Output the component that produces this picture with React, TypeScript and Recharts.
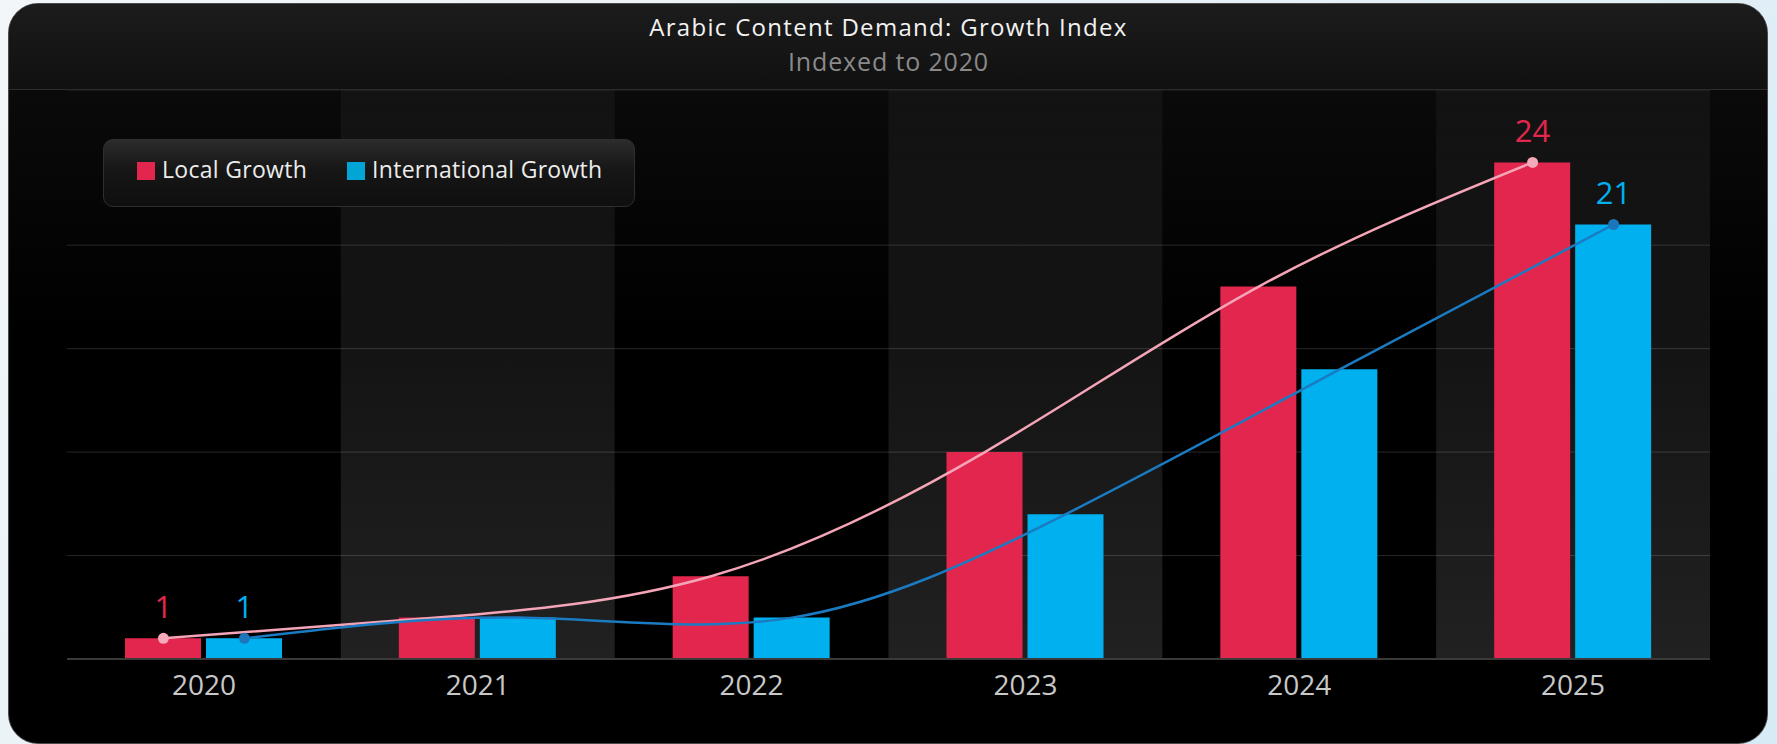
import React from 'react';
import { ComposedChart, Bar, Line, XAxis, YAxis, CartesianGrid, ReferenceArea } from 'recharts';

const years = ['2020', '2021', '2022', '2023', '2024', '2025'];
const localGrowth = [1, 2, 4, 10, 18, 24];
const internationalGrowth = [1, 2, 2, 7, 14, 21];
const yTicks = [0, 5, 10, 15, 20];
const shadedYears = ['2021', '2023', '2025'];

const RED = '#e3264e';
const BLUE = '#00b0ef';
const PINK_LINE = '#f4a5b7';
const BLUE_LINE = '#1b7bc2';
const FONT = '"Open Sans", "Noto Sans", sans-serif';

const data = years.map((year, i) => ({ year, local: localGrowth[i], intl: internationalGrowth[i] }));
const LAST = years.length - 1;

const makeDot = (key: 'local' | 'intl', dotColor: string, labelColor: string) => (props: any) => {
  const { cx, cy, index, payload } = props;
  if (index !== 0 && index !== LAST) return <g key={`d-${key}-${index}`} />;
  return (
    <g key={`d-${key}-${index}`}>
      <circle cx={cx} cy={cy} r={5.5} fill={dotColor} />
      <text x={cx} y={cy - 20} textAnchor="middle" fill={labelColor} fontSize={31} fontFamily={FONT}>
        {payload[key]}
      </text>
    </g>
  );
};

export default function App() {
  return (
    <div style={{ position: 'absolute', left: 0, top: 0, width: 1777, height: 744, overflow: 'hidden', background: 'linear-gradient(135deg, #f3f6f8 0%, #e6f1f7 50%, #d6ebf5 100%)' }}>
      <div style={{ position: 'absolute', left: 8, top: 3, width: 1760, height: 741, borderRadius: 30, overflow: 'hidden', boxSizing: 'border-box', border: '1px solid #4a4a4a', background: 'linear-gradient(180deg, #0e0e0e 0px, #0a0a0a 90px, #000 330px, #000 100%)' }}>
        <div style={{ position: 'absolute', left: 0, top: 0, right: 0, height: 86, boxSizing: 'border-box', borderBottom: '1px solid #2e2e2e', background: 'linear-gradient(180deg, #1c1c1c 0%, #101010 100%)' }} />
      </div>
      <div style={{ position: 'absolute', left: 0, top: 10, width: 1777, textAlign: 'center', color: '#f2f2f2', fontFamily: FONT, fontSize: 24, letterSpacing: '1.3px', lineHeight: '34px' }}>
        Arabic Content Demand: Growth Index
      </div>
      <div style={{ position: 'absolute', left: 0, top: 44, width: 1777, textAlign: 'center', color: '#8a8a8a', fontFamily: FONT, fontSize: 25, letterSpacing: '0.85px', lineHeight: '34px' }}>
        Indexed to 2020
      </div>
      <div style={{ position: 'absolute', left: 0, top: 0 }}>
        <ComposedChart width={1777} height={744} data={data} margin={{ top: 90, right: 67, bottom: 45, left: 67 }} barGap={5}>
          <defs>
            <linearGradient id="bandGrad" x1="0" y1="0" x2="0" y2="1">
              <stop offset="0%" stopColor="#ffffff" stopOpacity={0.035} />
              <stop offset="100%" stopColor="#ffffff" stopOpacity={0.13} />
            </linearGradient>
          </defs>
          <CartesianGrid vertical={false} stroke="#272727" strokeWidth={1} />
          {shadedYears.map((y) => (
            <ReferenceArea key={y} x1={y} x2={y} fill="url(#bandGrad)" fillOpacity={1} stroke="none" ifOverflow="visible" />
          ))}
          <XAxis dataKey="year" height={40} axisLine={{ stroke: '#3a3a3a', strokeWidth: 2 }} tickLine={false} tickMargin={10}
            tick={{ fill: '#c8c8c8', fontSize: 28, fontFamily: FONT }} interval={0} />
          <XAxis xAxisId="lp" dataKey="year" hide padding={{ left: -40.5, right: 40.5 }} />
          <XAxis xAxisId="lb" dataKey="year" hide padding={{ left: 40.5, right: -40.5 }} />
          <YAxis hide domain={[0, 27.5]} ticks={yTicks} />
          <Bar dataKey="local" name="Local Growth" fill={RED} barSize={76} isAnimationActive={false} />
          <Bar dataKey="intl" name="International Growth" fill={BLUE} barSize={76} isAnimationActive={false} />
          <Line xAxisId="lp" type="natural" dataKey="local" stroke={PINK_LINE} strokeWidth={2.5}
            dot={makeDot('local', '#f5aabb', RED)} activeDot={false} isAnimationActive={false} />
          <Line xAxisId="lb" type="natural" dataKey="intl" stroke={BLUE_LINE} strokeWidth={2.5}
            dot={makeDot('intl', '#1b76bb', BLUE)} activeDot={false} isAnimationActive={false} />
        </ComposedChart>
      </div>
      <div style={{ position: 'absolute', left: 103, top: 139, width: 532, height: 68, boxSizing: 'border-box', borderRadius: 10, border: '1px solid #2f2f2f', background: 'linear-gradient(180deg, #2c2c2c 0%, #161616 45%, #0f0f0f 100%)', fontFamily: FONT, fontSize: 23, letterSpacing: '0.3px', color: '#ececec' }}>
        <div style={{ position: 'absolute', left: 33, top: 22, width: 18, height: 18, background: RED }} />
        <div style={{ position: 'absolute', left: 58, top: 13, lineHeight: '32px', whiteSpace: 'nowrap' }}>Local Growth</div>
        <div style={{ position: 'absolute', left: 243, top: 22, width: 18, height: 18, background: '#03a5d7' }} />
        <div style={{ position: 'absolute', left: 268, top: 13, lineHeight: '32px', whiteSpace: 'nowrap' }}>International Growth</div>
      </div>
    </div>
  );
}
